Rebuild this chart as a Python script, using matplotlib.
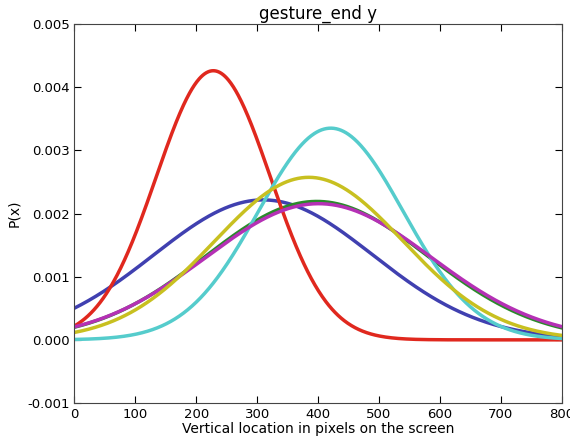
import numpy as np
import matplotlib
matplotlib.use("Agg")
import matplotlib.pyplot as plt

# Fitted normal distributions per group (mean, std in pixels)
means = [310, 398, 228, 421, 401, 385]
stds = [180, 182, 93.6, 119, 185, 155]
colors = ['#4040b0', '#2a8a2a', '#e0281e', '#55cccc', '#b530b5', '#c8c020']

xs = np.linspace(0, 800, 801)

fig = plt.figure(figsize=(5.7, 4.37), dpi=100)
ax = fig.add_axes([0.1307, 0.0778, 0.8544, 0.867])

for mu, sd, c in zip(means, stds, colors):
    pdf = np.exp(-(xs - mu) ** 2 / (2 * sd ** 2)) / (sd * np.sqrt(2 * np.pi))
    ax.plot(xs, pdf, color=c, linewidth=2.5)

ax.set_xlim(0, 800)
ax.set_ylim(-0.001, 0.005)
ax.set_xticks(np.arange(0, 801, 100))
ax.set_yticks(np.arange(-0.001, 0.0051, 0.001))
ax.set_yticklabels(['-0.001', '0.000', '0.001', '0.002', '0.003', '0.004', '0.005'])
ax.tick_params(direction='in', length=5, labelsize=9.5, top=True, right=True)
for s in ax.spines.values():
    s.set_color('#444444')
ax.set_title('gesture_end y', fontsize=12, pad=4)
ax.set_xlabel('Vertical location in pixels on the screen', fontsize=10, labelpad=1)
ax.set_ylabel('P(x)', fontsize=10)

fig.savefig('out.png', dpi=100)
